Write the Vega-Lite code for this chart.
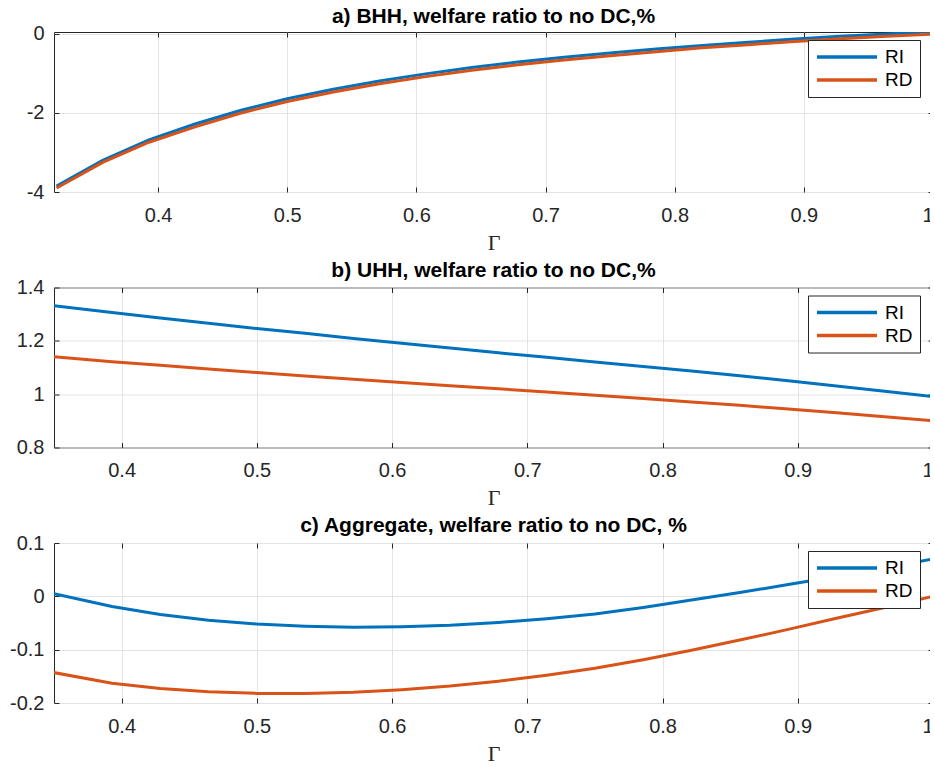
{
  "$schema": "https://vega.github.io/schema/vega-lite/v6.json",
  "padding": {"left": 9, "top": 5, "right": -4, "bottom": 2},
  "spacing": 4.5,
  "datasets": {
    "a": [
      {"g": 0.3214, "v": -3.85, "s": "RI"}, {"g": 0.3571, "v": -3.20, "s": "RI"}, {"g": 0.3929, "v": -2.68, "s": "RI"},
      {"g": 0.4286, "v": -2.28, "s": "RI"}, {"g": 0.4643, "v": -1.93, "s": "RI"}, {"g": 0.5, "v": -1.64, "s": "RI"},
      {"g": 0.5357, "v": -1.40, "s": "RI"}, {"g": 0.5714, "v": -1.19, "s": "RI"}, {"g": 0.6071, "v": -1.01, "s": "RI"},
      {"g": 0.6429, "v": -0.85, "s": "RI"}, {"g": 0.6786, "v": -0.71, "s": "RI"}, {"g": 0.7143, "v": -0.59, "s": "RI"},
      {"g": 0.75, "v": -0.48, "s": "RI"}, {"g": 0.7857, "v": -0.38, "s": "RI"}, {"g": 0.8214, "v": -0.29, "s": "RI"},
      {"g": 0.8571, "v": -0.21, "s": "RI"}, {"g": 0.8929, "v": -0.13, "s": "RI"}, {"g": 0.9286, "v": -0.06, "s": "RI"},
      {"g": 0.9643, "v": 0.00, "s": "RI"}, {"g": 1.0, "v": 0.06, "s": "RI"},
      {"g": 0.3214, "v": -3.90, "s": "RD"}, {"g": 0.3571, "v": -3.25, "s": "RD"}, {"g": 0.3929, "v": -2.74, "s": "RD"},
      {"g": 0.4286, "v": -2.35, "s": "RD"}, {"g": 0.4643, "v": -2.00, "s": "RD"}, {"g": 0.5, "v": -1.71, "s": "RD"},
      {"g": 0.5357, "v": -1.47, "s": "RD"}, {"g": 0.5714, "v": -1.26, "s": "RD"}, {"g": 0.6071, "v": -1.08, "s": "RD"},
      {"g": 0.6429, "v": -0.92, "s": "RD"}, {"g": 0.6786, "v": -0.78, "s": "RD"}, {"g": 0.7143, "v": -0.66, "s": "RD"},
      {"g": 0.75, "v": -0.55, "s": "RD"}, {"g": 0.7857, "v": -0.45, "s": "RD"}, {"g": 0.8214, "v": -0.35, "s": "RD"},
      {"g": 0.8571, "v": -0.27, "s": "RD"}, {"g": 0.8929, "v": -0.19, "s": "RD"}, {"g": 0.9286, "v": -0.12, "s": "RD"},
      {"g": 0.9643, "v": -0.06, "s": "RD"}, {"g": 1.0, "v": 0.00, "s": "RD"}
    ],
    "b": [
      {"g": 0.35, "v": 1.332, "s": "RI"}, {"g": 0.3929, "v": 1.306, "s": "RI"}, {"g": 0.4286, "v": 1.286, "s": "RI"},
      {"g": 0.4643, "v": 1.266, "s": "RI"}, {"g": 0.5, "v": 1.246, "s": "RI"}, {"g": 0.5357, "v": 1.228, "s": "RI"},
      {"g": 0.5714, "v": 1.209, "s": "RI"}, {"g": 0.6071, "v": 1.191, "s": "RI"}, {"g": 0.6429, "v": 1.173, "s": "RI"},
      {"g": 0.6786, "v": 1.155, "s": "RI"}, {"g": 0.7143, "v": 1.138, "s": "RI"}, {"g": 0.75, "v": 1.121, "s": "RI"},
      {"g": 0.7857, "v": 1.104, "s": "RI"}, {"g": 0.8214, "v": 1.087, "s": "RI"}, {"g": 0.8571, "v": 1.069, "s": "RI"},
      {"g": 0.8929, "v": 1.050, "s": "RI"}, {"g": 0.9286, "v": 1.031, "s": "RI"}, {"g": 0.9643, "v": 1.011, "s": "RI"},
      {"g": 1.0, "v": 0.991, "s": "RI"},
      {"g": 0.35, "v": 1.140, "s": "RD"}, {"g": 0.3929, "v": 1.122, "s": "RD"}, {"g": 0.4286, "v": 1.108, "s": "RD"},
      {"g": 0.4643, "v": 1.094, "s": "RD"}, {"g": 0.5, "v": 1.081, "s": "RD"}, {"g": 0.5357, "v": 1.068, "s": "RD"},
      {"g": 0.5714, "v": 1.056, "s": "RD"}, {"g": 0.6071, "v": 1.044, "s": "RD"}, {"g": 0.6429, "v": 1.032, "s": "RD"},
      {"g": 0.6786, "v": 1.020, "s": "RD"}, {"g": 0.7143, "v": 1.008, "s": "RD"}, {"g": 0.75, "v": 0.996, "s": "RD"},
      {"g": 0.7857, "v": 0.984, "s": "RD"}, {"g": 0.8214, "v": 0.971, "s": "RD"}, {"g": 0.8571, "v": 0.958, "s": "RD"},
      {"g": 0.8929, "v": 0.944, "s": "RD"}, {"g": 0.9286, "v": 0.930, "s": "RD"}, {"g": 0.9643, "v": 0.915, "s": "RD"},
      {"g": 1.0, "v": 0.900, "s": "RD"}
    ],
    "c": [
      {"g": 0.35, "v": 0.005, "s": "RI"}, {"g": 0.3929, "v": -0.019, "s": "RI"}, {"g": 0.4286, "v": -0.034, "s": "RI"},
      {"g": 0.4643, "v": -0.045, "s": "RI"}, {"g": 0.5, "v": -0.052, "s": "RI"}, {"g": 0.5357, "v": -0.056, "s": "RI"},
      {"g": 0.5714, "v": -0.058, "s": "RI"}, {"g": 0.6071, "v": -0.057, "s": "RI"}, {"g": 0.6429, "v": -0.054, "s": "RI"},
      {"g": 0.6786, "v": -0.049, "s": "RI"}, {"g": 0.7143, "v": -0.042, "s": "RI"}, {"g": 0.75, "v": -0.033, "s": "RI"},
      {"g": 0.7857, "v": -0.021, "s": "RI"}, {"g": 0.8214, "v": -0.007, "s": "RI"}, {"g": 0.8571, "v": 0.007, "s": "RI"},
      {"g": 0.8929, "v": 0.022, "s": "RI"}, {"g": 0.9286, "v": 0.037, "s": "RI"}, {"g": 0.9643, "v": 0.053, "s": "RI"},
      {"g": 1.0, "v": 0.070, "s": "RI"},
      {"g": 0.35, "v": -0.143, "s": "RD"}, {"g": 0.3929, "v": -0.163, "s": "RD"}, {"g": 0.4286, "v": -0.173, "s": "RD"},
      {"g": 0.4643, "v": -0.179, "s": "RD"}, {"g": 0.5, "v": -0.182, "s": "RD"}, {"g": 0.5357, "v": -0.182, "s": "RD"},
      {"g": 0.5714, "v": -0.180, "s": "RD"}, {"g": 0.6071, "v": -0.175, "s": "RD"}, {"g": 0.6429, "v": -0.168, "s": "RD"},
      {"g": 0.6786, "v": -0.159, "s": "RD"}, {"g": 0.7143, "v": -0.148, "s": "RD"}, {"g": 0.75, "v": -0.135, "s": "RD"},
      {"g": 0.7857, "v": -0.119, "s": "RD"}, {"g": 0.8214, "v": -0.101, "s": "RD"}, {"g": 0.8571, "v": -0.082, "s": "RD"},
      {"g": 0.8929, "v": -0.062, "s": "RD"}, {"g": 0.9286, "v": -0.041, "s": "RD"}, {"g": 0.9643, "v": -0.021, "s": "RD"},
      {"g": 1.0, "v": 0.000, "s": "RD"}
    ]
  },
  "vconcat": [
    {
      "width": 879, "height": 160,
      "title": {"text": "a) BHH, welfare ratio to no DC,%"},
      "data": {"name": "a"},
      "layer": [
        {
          "mark": {"type": "line", "strokeWidth": 3, "clip": true},
          "encoding": {
            "x": {"field": "g", "type": "quantitative", "title": "Γ",
                  "scale": {"domain": [0.3194, 1], "nice": false, "zero": false},
                  "axis": {"values": [0.4, 0.5, 0.6, 0.7, 0.8, 0.9, 1]}},
            "y": {"field": "v", "type": "quantitative", "title": null,
                  "scale": {"domain": [-4, 0.05], "nice": false, "zero": false},
                  "axis": {"values": [-4, -2, 0]}},
            "color": {"field": "s", "type": "nominal", "title": null,
                      "scale": {"domain": ["RI", "RD"], "range": ["#0072BD", "#D95319"]},
                      "legend": {"orient": "none", "legendX": 754, "legendY": 8}},
            "order": {"field": "g"}
          }
        },
        {
          "mark": {"type": "line", "strokeOpacity": 0},
          "encoding": {
            "x": {"field": "g", "type": "quantitative",
                  "axis": {"orient": "top", "values": [0.4, 0.5, 0.6, 0.7, 0.8, 0.9, 1], "labels": false, "grid": false, "title": null}},
            "y": {"field": "v", "type": "quantitative",
                  "axis": {"orient": "right", "values": [-4, -2, 0], "labels": false, "grid": false, "title": null}},
            "detail": {"field": "s"}
          }
        }
      ],
      "resolve": {"axis": {"x": "independent", "y": "independent"}}
    },
    {
      "width": 879, "height": 160,
      "title": {"text": "b) UHH, welfare ratio to no DC,%"},
      "data": {"name": "b"},
      "layer": [
        {
          "mark": {"type": "line", "strokeWidth": 3, "clip": true},
          "encoding": {
            "x": {"field": "g", "type": "quantitative", "title": "Γ",
                  "scale": {"domain": [0.35, 1], "nice": false, "zero": false},
                  "axis": {"values": [0.4, 0.5, 0.6, 0.7, 0.8, 0.9, 1]}},
            "y": {"field": "v", "type": "quantitative", "title": null,
                  "scale": {"domain": [0.8, 1.4], "nice": false, "zero": false},
                  "axis": {"values": [0.8, 1, 1.2, 1.4]}},
            "color": {"field": "s", "type": "nominal", "title": null,
                      "scale": {"domain": ["RI", "RD"], "range": ["#0072BD", "#D95319"]},
                      "legend": {"orient": "none", "legendX": 754, "legendY": 8}},
            "order": {"field": "g"}
          }
        },
        {
          "mark": {"type": "line", "strokeOpacity": 0},
          "encoding": {
            "x": {"field": "g", "type": "quantitative",
                  "axis": {"orient": "top", "values": [0.4, 0.5, 0.6, 0.7, 0.8, 0.9, 1], "labels": false, "grid": false, "title": null}},
            "y": {"field": "v", "type": "quantitative",
                  "axis": {"orient": "right", "values": [0.8, 1, 1.2, 1.4], "labels": false, "grid": false, "title": null}},
            "detail": {"field": "s"}
          }
        }
      ],
      "resolve": {"axis": {"x": "independent", "y": "independent"}}
    },
    {
      "width": 879, "height": 160,
      "title": {"text": "c) Aggregate, welfare ratio to no DC, %"},
      "data": {"name": "c"},
      "layer": [
        {
          "mark": {"type": "line", "strokeWidth": 3, "clip": true},
          "encoding": {
            "x": {"field": "g", "type": "quantitative", "title": "Γ",
                  "scale": {"domain": [0.35, 1], "nice": false, "zero": false},
                  "axis": {"values": [0.4, 0.5, 0.6, 0.7, 0.8, 0.9, 1]}},
            "y": {"field": "v", "type": "quantitative", "title": null,
                  "scale": {"domain": [-0.2, 0.1], "nice": false, "zero": false},
                  "axis": {"values": [-0.2, -0.1, 0, 0.1]}},
            "color": {"field": "s", "type": "nominal", "title": null,
                      "scale": {"domain": ["RI", "RD"], "range": ["#0072BD", "#D95319"]},
                      "legend": {"orient": "none", "legendX": 754, "legendY": 8}},
            "order": {"field": "g"}
          }
        },
        {
          "mark": {"type": "line", "strokeOpacity": 0},
          "encoding": {
            "x": {"field": "g", "type": "quantitative",
                  "axis": {"orient": "top", "values": [0.4, 0.5, 0.6, 0.7, 0.8, 0.9, 1], "labels": false, "grid": false, "title": null}},
            "y": {"field": "v", "type": "quantitative",
                  "axis": {"orient": "right", "values": [-0.2, -0.1, 0, 0.1], "labels": false, "grid": false, "title": null}},
            "detail": {"field": "s"}
          }
        }
      ],
      "resolve": {"axis": {"x": "independent", "y": "independent"}}
    }
  ],
  "resolve": {"scale": {"color": "independent"}, "legend": {"color": "independent"}},
  "config": {
    "locale": {"number": {"decimal": ".", "thousands": ",", "grouping": [3], "currency": ["$", ""], "minus": "-"}},
    "font": "Liberation Sans",
    "view": {"stroke": "#262626", "strokeWidth": 1},
    "title": {"font": "Liberation Sans", "fontSize": 21, "fontWeight": "bold", "color": "#000000", "anchor": "middle", "offset": -3},
    "axis": {
      "labelFont": "Liberation Sans", "labelFontSize": 20, "labelColor": "#262626",
      "domain": false, "ticks": true, "tickSize": -5, "tickColor": "#262626",
      "grid": true, "gridColor": "#e3e3e3", "gridWidth": 1,
      "labelPadding": 18, "format": "~g",
      "titleFont": "Liberation Serif", "titleFontSize": 22, "titleFontWeight": "normal", "titleColor": "#262626", "titlePadding": 7
    },
    "axisY": {"labelPadding": 15},
    "legend": {
      "symbolType": "stroke", "symbolStrokeWidth": 3.5, "symbolSize": 3600,
      "clipHeight": 20, "rowPadding": 3,
      "labelFont": "Liberation Sans", "labelFontSize": 19, "labelColor": "#000000",
      "strokeColor": "#262626", "fillColor": "#ffffff", "padding": 7, "labelOffset": 6
    }
  }
}
